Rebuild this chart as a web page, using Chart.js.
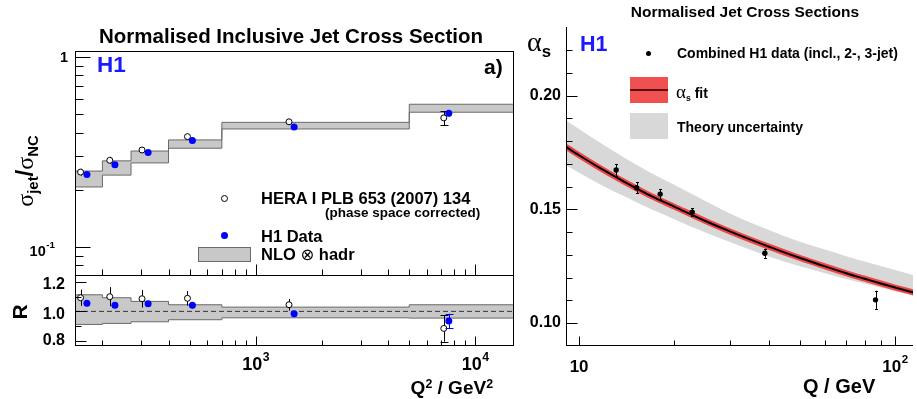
<!DOCTYPE html>
<html>
<head>
<meta charset="utf-8">
<script src="https://cdn.jsdelivr.net/npm/chart.js@4.4.1/dist/chart.umd.min.js"></script>
<style>
  body { margin: 0; background: #fff; }
  #wrap { position: relative; width: 917px; height: 399px; overflow: hidden;
          font-family: "Liberation Sans", Arial, Helvetica, sans-serif; font-weight: bold; color: #000; }
  canvas { position: absolute; left: 0; top: 0; }
  .t { position: absolute; white-space: nowrap; line-height: 1; }
  .l { transform: translate(0, -50%); }
  .c { transform: translate(-50%, -50%); }
  .r { transform: translate(-100%, -50%); }
  .sub { position: relative; top: 0.35em; font-size: 0.62em; }
  .sup { position: relative; top: -0.45em; font-size: 0.65em; }
  .greek { font-family: "Liberation Serif", "DejaVu Serif", serif; font-weight: normal; }
  .box { position: absolute; }
</style>
</head>
<body>
<div id="wrap">
  <canvas id="cTop" width="917" height="399"></canvas>
  <canvas id="cRatio" width="917" height="399"></canvas>
  <canvas id="cAlpha" width="917" height="399"></canvas>

  <!-- left panel texts -->
  <div class="t c" style="left:291px; top:35.5px; font-size:20.5px;">Normalised Inclusive Jet Cross Section</div>
  <div class="t l" style="left:97px; top:65px; font-size:22.5px; color:#1a1aff;">H1</div>
  <div class="t l" style="left:484px; top:65.5px; font-size:21px;">a)</div>
  <div class="t" style="left:25px; top:171px; font-size:24px; transform:translate(-50%,-50%) rotate(-90deg);"><span class="greek">σ</span><span class="sub">jet</span>/<span class="greek">σ</span><span class="sub">NC</span></div>

  <div class="box" style="left:221px; top:195px; width:5px; height:5px; border:1px solid #000; border-radius:50%; background:#fff;"></div>
  <div class="t l" style="left:261px; top:198px; font-size:16.5px;">HERA I PLB 653 (2007) 134</div>
  <div class="t l" style="left:325px; top:212.5px; font-size:13.5px;">(phase space corrected)</div>
  <div class="box" style="left:220.5px; top:231.5px; width:7px; height:7px; border-radius:50%; background:#0000ff;"></div>
  <div class="t l" style="left:261px; top:236px; font-size:16.5px;">H1 Data</div>
  <div class="box" style="left:198px; top:247px; width:51px; height:13px; border:1px solid #6a6a6a; background:#c8c8c8;"></div>
  <div class="t l" style="left:261px; top:254.5px; font-size:16.5px;">NLO <span style="font-family:'DejaVu Sans',sans-serif; font-weight:normal;">⊗</span> hadr</div>

  <div class="t" style="left:19px; top:311.5px; font-size:21px; transform:translate(-50%,-50%) rotate(-90deg);">R</div>
  <div class="t r" style="left:493px; top:386.5px; font-size:19px;">Q<span class="sup">2</span> / GeV<span class="sup">2</span></div>

  <!-- right panel texts -->
  <div class="t c" style="left:745px; top:11.5px; font-size:15.5px;">Normalised Jet Cross Sections</div>
  <div class="t l" style="left:527px; top:42px; font-size:28px;"><span class="greek">α</span><span class="sub" style="font-family:'Liberation Sans',Arial,sans-serif; font-weight:bold; font-size:0.6em;">s</span></div>
  <div class="t l" style="left:580px; top:45px; font-size:21.5px; color:#1a1aff;">H1</div>

  <div class="box" style="left:645.5px; top:50.5px; width:5px; height:5px; border-radius:50%; background:#000;"></div>
  <div class="t l" style="left:677px; top:53px; font-size:14px;">Combined H1 data (incl., 2-, 3-jet)</div>
  <div class="box" style="left:630px; top:77px; width:38px; height:26px; background:#f05050;"></div>
  <div class="box" style="left:630px; top:89px; width:38px; height:2px; background:#5a0f0f;"></div>
  <div class="t l" style="left:676px; top:91px; font-size:14px;"><span class="greek" style="font-size:19px;">α</span><span class="sub">s</span> fit</div>
  <div class="box" style="left:630px; top:113px; width:38px; height:26px; background:#d8d8d8;"></div>
  <div class="t l" style="left:677px; top:127px; font-size:14px;">Theory uncertainty</div>
  <div class="t l" style="left:803px; top:386px; font-size:20px;">Q / GeV</div>
</div>

<script>
// ---- left panel: normalised inclusive jet cross section vs Q^2 ----
const binEdges = [150, 200, 270, 400, 700, 5000, 15000];
const nloHigh = [0.251, 0.284, 0.320, 0.366, 0.453, 0.564];
const nloLow = [0.207, 0.239, 0.277, 0.331, 0.418, 0.512];

const heraQ2 = [159, 216, 303, 488, 1416, 7180];
const heraXsec = [0.248, 0.286, 0.324, 0.381, 0.456, 0.478];
const heraXsecErr = [0.010, 0.012, 0.012, 0.013, 0.015, 0.040];

const h1Q2 = [170, 228, 323, 514, 1494, 7570];
const h1Xsec = [0.241, 0.271, 0.314, 0.364, 0.428, 0.505];
const h1XsecErr = [0.005, 0.006, 0.006, 0.007, 0.008, 0.020];

// ratio to NLO
const ratioHigh = [1.113, 1.093, 1.068, 1.045, 1.029, 1.045];
const ratioLow = [0.911, 0.918, 0.929, 0.943, 0.956, 0.954];
const heraRatio = [1.093, 1.100, 1.086, 1.089, 1.045, 0.884];
const heraRatioErr = [0.055, 0.065, 0.060, 0.050, 0.040, 0.090];
const h1Ratio = [1.055, 1.041, 1.052, 1.041, 0.984, 0.934];
const h1RatioErr = [0.020, 0.020, 0.020, 0.020, 0.020, 0.050];
const ratioRef = 1.0;

// ---- right panel: alpha_s running ----
const qData = [13.1, 15.2, 18.05, 22.8, 38.7, 86.7];
const alphaData = [0.1673, 0.1595, 0.1567, 0.1488, 0.1307, 0.1102];
const alphaErr = [0.0026, 0.0024, 0.0023, 0.0017, 0.0020, 0.0040];

const qCurve = [9, 10, 12, 14, 17, 20, 25, 30, 40, 50, 60, 70, 80, 90, 100, 116];
const alphaFit = [0.1779, 0.1738, 0.1671, 0.1619, 0.1557, 0.1512, 0.1450, 0.1403, 0.1335, 0.1286, 0.1249, 0.1219, 0.1195, 0.1174, 0.1156, 0.1132];
const theoryHigh = [0.1896, 0.1853, 0.1782, 0.1725, 0.1658, 0.1608, 0.1538, 0.1482, 0.1408, 0.1358, 0.1323, 0.1294, 0.1271, 0.1251, 0.1233, 0.1208];
const theoryLow = [0.1697, 0.1661, 0.1601, 0.1555, 0.1499, 0.1457, 0.1399, 0.1356, 0.1292, 0.1250, 0.1219, 0.1194, 0.1174, 0.1156, 0.1140, 0.1119];

// ---- ticks ----
const q2MajorTicks = [1000, 10000];
const q2MinorTicks = [200, 300, 400, 500, 600, 700, 800, 900, 2000, 3000, 4000, 5000, 6000, 7000, 8000, 9000];
const q2TickLabels = ['10^3', '10^4'];
const xsecMajorTicks = [1, 0.1];
const xsecMinorTicks = [0.9, 0.8, 0.7, 0.6, 0.5, 0.4, 0.3, 0.2, 0.09, 0.08];
const xsecTickLabels = ['1', '10^-1'];
const ratioMajorTicks = [1.2, 1.0, 0.8];
const ratioMinorTicks = [1.1, 0.9];
const ratioTickLabels = ['1.2', '1.0', '0.8'];
const qMajorTicks = [10, 100];
const qMinorTicks = [20, 30, 40, 50, 60, 70, 80, 90];
const qTickLabels = ['10', '10^2'];
const alphaMajorTicks = [0.10, 0.15, 0.20];
const alphaMinorTicks = [0.11, 0.12, 0.13, 0.14, 0.16, 0.17, 0.18, 0.19, 0.21, 0.22];
const alphaTickLabels = ['0.10', '0.15', '0.20'];

const FONT = '"Liberation Sans", Arial, sans-serif';

function pts(xs, ys) {
    return xs.map((x, i) => ({ x: x, y: ys[i] }));
}

// histogram-like step line: one point per lower bin edge plus the last edge
function steps(vals) {
    const p = vals.map((v, i) => ({ x: binEdges[i], y: v }));
    p.push({ x: binEdges[binEdges.length - 1], y: vals[vals.length - 1] });
    return p;
}

function drawLabel(ctx, text, x, y, align, size) {
    const parts = text.split('^');
    const supSize = size * 0.68;
    ctx.font = `bold ${size}px ${FONT}`;
    const wb = ctx.measureText(parts[0]).width;
    let ws = 0;
    if (parts[1]) {
        ctx.font = `bold ${supSize}px ${FONT}`;
        ws = ctx.measureText(parts[1]).width + 0.5;
    }
    const total = wb + ws;
    const x0 = align === 'right' ? x - total : (align === 'center' ? x - total / 2 : x);
    ctx.textBaseline = 'middle';
    ctx.textAlign = 'left';
    ctx.fillStyle = '#000';
    ctx.font = `bold ${size}px ${FONT}`;
    ctx.fillText(parts[0], x0, y);
    if (parts[1]) {
        ctx.font = `bold ${supSize}px ${FONT}`;
        ctx.fillText(parts[1], x0 + wb + 0.5, y - size * 0.45);
    }
}

// error bars under the markers
const errorBars = {
    id: 'errorBars',
    beforeDatasetDraw(chart, args) {
        const ds = chart.data.datasets[args.index];
        if (!ds.errors) return;
        const ctx = chart.ctx;
        const ys = chart.scales.y;
        ctx.save();
        ctx.strokeStyle = ds.errorColor || '#000';
        ctx.lineWidth = 1;
        args.meta.data.forEach((el, i) => {
            const v = ds.data[i].y;
            const e = ds.errors[i];
            const x = Math.round(el.x) + 0.5;
            const top = ys.getPixelForValue(v + e);
            const bot = ys.getPixelForValue(v - e);
            ctx.beginPath();
            ctx.moveTo(x, top);
            ctx.lineTo(x, bot);
            const cap = ds.caps ? ds.caps[i] : 0;
            if (cap) {
                ctx.moveTo(x - cap, Math.round(top) + 0.5);
                ctx.lineTo(x + cap, Math.round(top) + 0.5);
                ctx.moveTo(x - cap, Math.round(bot) + 0.5);
                ctx.lineTo(x + cap, Math.round(bot) + 0.5);
            }
            ctx.stroke();
        });
        ctx.restore();
    }
};

// ROOT-like frame: inward ticks and hand placed tick labels
function rootFrame(spec) {
    return {
        id: 'rootFrame',
        afterDraw(chart) {
            const ctx = chart.ctx;
            const a = chart.chartArea;
            const L = Math.round(a.left) + 0.5, R = Math.round(a.right) - 0.5;
            const T = Math.round(a.top) + 0.5, B = Math.round(a.bottom) - 0.5;
            ctx.save();
            ctx.strokeStyle = '#000';
            ctx.lineWidth = 1;
            ctx.beginPath();
            if (spec.sides.includes('l')) { ctx.moveTo(L, T - 0.5); ctx.lineTo(L, B + 0.5); }
            if (spec.sides.includes('r')) { ctx.moveTo(R, T - 0.5); ctx.lineTo(R, B + 0.5); }
            if (spec.sides.includes('t')) { ctx.moveTo(L - 0.5, T); ctx.lineTo(R + 0.5, T); }
            if (spec.sides.includes('b')) { ctx.moveTo(L - 0.5, B); ctx.lineTo(R + 0.5, B); }
            spec.ticks.forEach(t => {
                const s = chart.scales[t.axis];
                const all = t.major.map(v => [v, t.majLen]).concat(t.minor.map(v => [v, t.minLen]));
                all.forEach(([v, len]) => {
                    const p = Math.round(s.getPixelForValue(v)) + 0.5;
                    if (t.axis === 'x') {
                        if (p < a.left || p > a.right) return;
                        ctx.moveTo(p, B);
                        ctx.lineTo(p, B - len);
                    } else {
                        if (p < a.top || p > a.bottom) return;
                        ctx.moveTo(L, p);
                        ctx.lineTo(L + len, p);
                    }
                });
            });
            ctx.stroke();
            spec.labels.forEach(lb => {
                const s = chart.scales[lb.axis];
                lb.values.forEach((v, i) => {
                    const p = s.getPixelForValue(v);
                    const dx = lb.dx ? lb.dx[i] : 0;
                    const dy = lb.dy ? lb.dy[i] : 0;
                    if (lb.axis === 'x') {
                        drawLabel(ctx, lb.texts[i], p + dx, a.bottom + lb.offset + dy, 'center', lb.size);
                    } else {
                        drawLabel(ctx, lb.texts[i], a.left - lb.offset + dx, p + dy, 'right', lb.size);
                    }
                });
            });
            ctx.restore();
        }
    };
}

function panel(id, padding, xScale, yScale, datasets, frame) {
    return new Chart(document.getElementById(id), {
        type: 'line',
        data: { datasets: datasets },
        options: {
            responsive: false,
            animation: false,
            devicePixelRatio: 1,
            layout: { padding: padding },
            scales: {
                x: Object.assign({ display: false }, xScale),
                y: Object.assign({ display: false }, yScale)
            },
            plugins: { legend: { display: false }, tooltip: { enabled: false } },
            elements: { line: { tension: 0 } }
        },
        plugins: [errorBars, rootFrame(frame)]
    });
}

// top-left: cross section
panel('cTop', { left: 75, top: 51, right: 403, bottom: 123 },
    { type: 'logarithmic', min: 150, max: 15000 },
    { type: 'logarithmic', min: 0.0704, max: 1.075 },
    [
        { data: pts(h1Q2, h1Xsec), showLine: false, pointRadius: 3.5, pointBorderWidth: 0,
          pointBackgroundColor: '#0000ff', errors: h1XsecErr, errorColor: '#0000ff', order: 0 },
        { data: pts(heraQ2, heraXsec), showLine: false, pointRadius: 3, pointBorderWidth: 1,
          pointBorderColor: '#000', pointBackgroundColor: '#fff', errors: heraXsecErr,
          caps: [0, 0, 0, 0, 0, 4], order: 1 },
        { data: steps(nloLow), stepped: 'before', borderColor: '#6a6a6a', borderWidth: 1,
          pointRadius: 0, fill: false, order: 3 },
        { data: steps(nloHigh), stepped: 'before', borderColor: '#6a6a6a', borderWidth: 1,
          pointRadius: 0, fill: '-1', backgroundColor: '#c8c8c8', order: 3 }
    ],
    {
        sides: 'lrtb',
        ticks: [
            { axis: 'x', major: q2MajorTicks, minor: q2MinorTicks, majLen: 11, minLen: 6 },
            { axis: 'y', major: xsecMajorTicks, minor: xsecMinorTicks, majLen: 15, minLen: 8 }
        ],
        labels: [
            { axis: 'y', values: xsecMajorTicks, texts: xsecTickLabels, size: 14.5, offset: 7, dx: [0, -13], dy: [1, 5] }
        ]
    });

// bottom-left: ratio
panel('cRatio', { left: 75, top: 276, right: 403, bottom: 53 },
    { type: 'logarithmic', min: 150, max: 15000 },
    { type: 'linear', min: 0.764, max: 1.241 },
    [
        { data: pts(h1Q2, h1Ratio), showLine: false, pointRadius: 3.5, pointBorderWidth: 0,
          pointBackgroundColor: '#0000ff', errors: h1RatioErr, errorColor: '#0000ff',
          caps: [0, 0, 0, 0, 0, 4], order: 0 },
        { data: pts(heraQ2, heraRatio), showLine: false, pointRadius: 3, pointBorderWidth: 1,
          pointBorderColor: '#000', pointBackgroundColor: '#fff', errors: heraRatioErr,
          caps: [0, 0, 0, 0, 0, 4], order: 1 },
        { data: [{ x: binEdges[0], y: ratioRef }, { x: binEdges[binEdges.length - 1], y: ratioRef }],
          borderColor: '#333', borderWidth: 1, borderDash: [5, 3], pointRadius: 0, order: 2 },
        { data: steps(ratioLow), stepped: 'before', borderColor: '#6a6a6a', borderWidth: 1,
          pointRadius: 0, fill: false, order: 3 },
        { data: steps(ratioHigh), stepped: 'before', borderColor: '#6a6a6a', borderWidth: 1,
          pointRadius: 0, fill: '-1', backgroundColor: '#c8c8c8', order: 3 }
    ],
    {
        sides: 'lrb',
        ticks: [
            { axis: 'x', major: q2MajorTicks, minor: q2MinorTicks, majLen: 9, minLen: 5 },
            { axis: 'y', major: ratioMajorTicks, minor: ratioMinorTicks, majLen: 11, minLen: 6 }
        ],
        labels: [
            { axis: 'y', values: ratioMajorTicks, texts: ratioTickLabels, size: 16, offset: 10, dy: [3, 3, 0] },
            { axis: 'x', values: q2MajorTicks, texts: q2TickLabels, size: 18, offset: 19.5 }
        ]
    });

// right: alpha_s(Q)
panel('cAlpha', { left: 566, top: 27, right: 0, bottom: 53 },
    { type: 'logarithmic', min: 9.09, max: 113.9 },
    { type: 'linear', min: 0.0899, max: 0.2302 },
    [
        { data: pts(qData, alphaData), showLine: false, pointRadius: 2.7, pointBorderWidth: 0,
          pointBackgroundColor: '#000', errors: alphaErr, caps: [1.5, 1.5, 1.5, 1.5, 1.5, 1.5], order: 0 },
        { data: pts(qCurve, alphaFit), borderColor: '#000', borderWidth: 2, pointRadius: 0,
          cubicInterpolationMode: 'monotone', order: 1 },
        { data: pts(qCurve, alphaFit), borderColor: '#f04848', borderWidth: 6, pointRadius: 0,
          cubicInterpolationMode: 'monotone', order: 2 },
        { data: pts(qCurve, theoryLow), borderWidth: 0, pointRadius: 0, fill: false,
          cubicInterpolationMode: 'monotone', order: 3 },
        { data: pts(qCurve, theoryHigh), borderWidth: 0, pointRadius: 0, fill: '-1',
          backgroundColor: '#d8d8d8', cubicInterpolationMode: 'monotone', order: 3 }
    ],
    {
        sides: 'lb',
        ticks: [
            { axis: 'x', major: qMajorTicks, minor: qMinorTicks, majLen: 9, minLen: 5 },
            { axis: 'y', major: alphaMajorTicks, minor: alphaMinorTicks, majLen: 11, minLen: 6 }
        ],
        labels: [
            { axis: 'y', values: alphaMajorTicks, texts: alphaTickLabels, size: 16, offset: 5 },
            { axis: 'x', values: qMajorTicks, texts: qTickLabels, size: 17, offset: 21 }
        ]
    });
</script>
</body>
</html>
